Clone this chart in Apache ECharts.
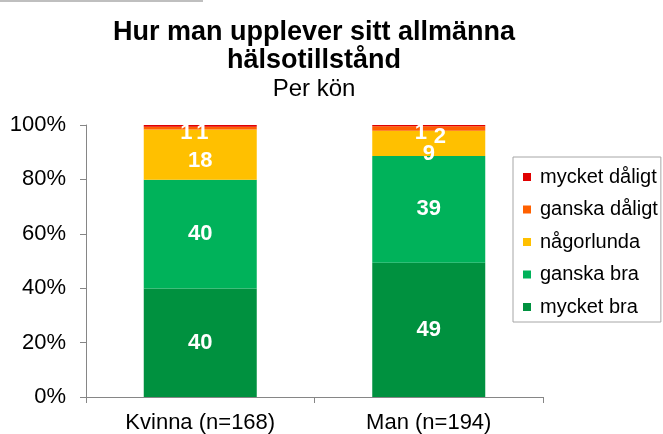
<!DOCTYPE html>
<html>
<head>
<meta charset="utf-8">
<script src="https://cdn.jsdelivr.net/npm/echarts@6/dist/echarts.min.js"></script>
<style>
  html, body { margin: 0; padding: 0; background: #fff; }
  #chart { width: 663px; height: 434px; }
</style>
</head>
<body>
<div id="chart"></div>
<script>
// Kategorier och andelar (%) per svarsalternativ
const categories = ['Kvinna (n=168)', 'Man (n=194)'];
const mycketBra = [39.9, 49.4];
const ganskaBra = [40.0, 39.2];
const nagorlunda = [18.4, 9.3];
const ganskaDaligt = [1.1, 1.6];
const mycketDaligt = [0.6, 0.5];
const yTicks = [0, 20, 40, 60, 80, 100];

// ordning nerifrån och upp i stapeln
const seriesDefs = [
  { name: 'mycket bra', values: mycketBra, color: '#00913F' },
  { name: 'ganska bra', values: ganskaBra, color: '#00B25A' },
  { name: 'någorlunda', values: nagorlunda, color: '#FFC000' },
  { name: 'ganska dåligt', values: ganskaDaligt, color: '#FF6000' },
  { name: 'mycket dåligt', values: mycketDaligt, color: '#E00000' },
];

// manuellt flyttade etiketter (som i originalet)
const labelOffsets = {
  'någorlunda': [[0, 6], [0, 11]],
  'ganska dåligt': [[2, 5], [11, 8]],
  'mycket dåligt': [[-14, 7], [-8, 7]],
};

const chart = echarts.init(document.getElementById('chart'), null, { renderer: 'canvas' });
const FONT = '"Liberation Sans", Arial, sans-serif';

const series = seriesDefs.map((s) => ({
  name: s.name,
  type: 'bar',
  stack: 'total',
  barWidth: 113,
  itemStyle: { color: s.color },
  label: {
    show: true,
    position: 'inside',
    color: '#fff',
    fontFamily: FONT,
    fontWeight: 'bold',
    fontSize: 22,
    formatter: (p) => String(Math.round(p.value)),
  },
  data: s.values.map((v, i) => {
    const off = labelOffsets[s.name];
    return off ? { value: v, label: { offset: off[i] } } : v;
  }),
}));

chart.setOption({
  animation: false,
  backgroundColor: '#fff',
  title: {
    text: 'Hur man upplever sitt allmänna\nhälsotillstånd',
    subtext: 'Per kön',
    left: 309,
    top: 14,
    textAlign: 'center',
    itemGap: 0,
    textStyle: { fontFamily: FONT, fontSize: 27, fontWeight: 'bold', color: '#000', lineHeight: 28 },
    subtextStyle: { fontFamily: FONT, fontSize: 24, color: '#000', lineHeight: 28 },
  },
  legend: {
    orient: 'vertical',
    left: 513,
    top: 157,
    data: ['mycket dåligt', 'ganska dåligt', 'någorlunda', 'ganska bra', 'mycket bra'],
    icon: 'rect',
    itemWidth: 8,
    itemHeight: 8,
    itemGap: 12.5,
    padding: [10, 3, 5, 10],
    borderColor: '#A6A6A6',
    borderWidth: 1,
    selectedMode: false,
    textStyle: { fontFamily: FONT, fontSize: 20, color: '#000', lineHeight: 20, padding: [0, 0, 0, 4] },
  },
  grid: { left: 86, right: 120, top: 125, bottom: 37 },
  xAxis: {
    type: 'category',
    data: categories,
    axisLine: { lineStyle: { color: '#868686' } },
    axisTick: { show: true, length: 6, lineStyle: { color: '#868686' } },
    axisLabel: { fontFamily: FONT, fontSize: 22, color: '#000', margin: 15 },
  },
  yAxis: {
    type: 'value',
    min: yTicks[0],
    max: yTicks[yTicks.length - 1],
    interval: yTicks[1] - yTicks[0],
    axisLine: { show: true, lineStyle: { color: '#868686' } },
    axisTick: { show: true, length: 6, lineStyle: { color: '#868686' } },
    splitLine: { show: false },
    axisLabel: { fontFamily: FONT, fontSize: 22, color: '#000', margin: 20, formatter: '{value}%' },
  },
  graphic: [
    { type: 'rect', left: 0, top: 0, shape: { width: 203, height: 2 }, style: { fill: '#BFBFBF' } },
  ],
  series,
});
</script>
</body>
</html>
